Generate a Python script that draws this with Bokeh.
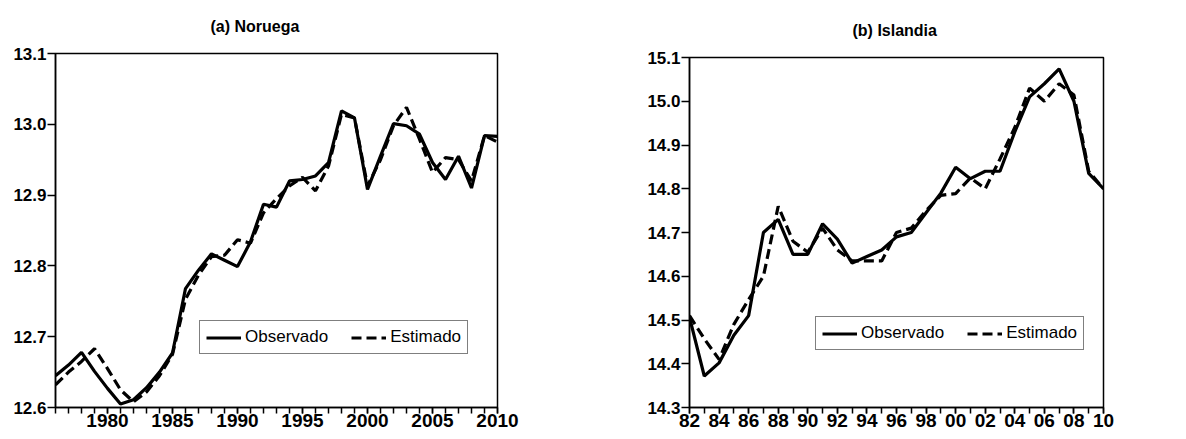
from bokeh.plotting import figure
from bokeh.layouts import row
from bokeh.models import FixedTicker, Legend, LegendItem, Range1d
from bokeh.embed import file_html
from bokeh.resources import INLINE

# ---- data ----
years_no = list(range(1976, 2011))
obs_no = [12.645, 12.660, 12.678, 12.651, 12.627, 12.605, 12.611, 12.628, 12.650, 12.677,
          12.768, 12.794, 12.817, 12.808, 12.799, 12.834, 12.887, 12.883, 12.920, 12.922,
          12.927, 12.946, 13.019, 13.009, 12.908, 12.955, 13.001, 12.998, 12.986, 12.946,
          12.922, 12.955, 12.910, 12.984, 12.983]
est_no = [12.632, 12.650, 12.665, 12.683, 12.655, 12.625, 12.608, 12.622, 12.645, 12.675,
          12.753, 12.787, 12.813, 12.815, 12.837, 12.832, 12.875, 12.895, 12.913, 12.925,
          12.906, 12.941, 13.014, 13.009, 12.913, 12.950, 12.998, 13.024, 12.979, 12.932,
          12.953, 12.950, 12.920, 12.984, 12.975]

years_is = list(range(1982, 2011))
obs_is = [14.506, 14.372, 14.402, 14.465, 14.510, 14.700, 14.730, 14.650, 14.650, 14.720,
          14.685, 14.630, 14.645, 14.660, 14.690, 14.700, 14.745, 14.790, 14.849, 14.823,
          14.840, 14.840, 14.930, 15.010, 15.040, 15.074, 15.000, 14.835, 14.800]
est_is = [14.510, 14.457, 14.410, 14.490, 14.547, 14.600, 14.760, 14.680, 14.655, 14.710,
          14.660, 14.635, 14.635, 14.635, 14.700, 14.710, 14.750, 14.785, 14.789, 14.825,
          14.800, 14.868, 14.940, 15.030, 15.000, 15.040, 15.014, 14.840, 14.800]

title_no = "(a) Noruega"
title_is = "(b) Islandia"
yticks_no = [12.6, 12.7, 12.8, 12.9, 13.0, 13.1]
yticks_is = [14.3, 14.4, 14.5, 14.6, 14.7, 14.8, 14.9, 15.0, 15.1]
xmajor_no = [1980, 1985, 1990, 1995, 2000, 2005, 2010]
xmajor_is = list(range(1982, 2011, 2))
xlabels_is = {y: "%02d" % (y % 100) for y in xmajor_is}

REG = "'Liberation Sans', Arial, sans-serif"


def make(title, years, obs, est, xr, yr, yticks, xmajor, xlabels, width, height,
         bl, br, bt, bb, title_offset, title_standoff, leg_loc, xfs):
    p = figure(width=width, height=height, output_backend="svg", toolbar_location=None,
               x_range=Range1d(*xr), y_range=Range1d(*yr),
               min_border_left=bl, min_border_right=br, min_border_top=bt, min_border_bottom=bb)
    p.title.text = title
    p.title.align = "left"
    p.title.vertical_align = "top"
    p.title.text_font = REG
    p.title.text_font_size = "16px"
    p.title.text_font_style = "bold"
    p.title.text_color = "black"
    p.title.offset = title_offset
    p.title.standoff = title_standoff
    p.grid.visible = False
    p.outline_line_color = "black"
    p.outline_line_width = 1.5
    p.background_fill_color = "white"
    p.border_fill_color = "white"

    r1 = p.line(years, obs, line_color="black", line_width=3.2)
    r2 = p.line(years, est, line_color="black", line_width=3.2, line_dash="10 5")

    ya = p.yaxis[0]
    ya.ticker = FixedTicker(ticks=yticks)
    ya.major_label_overrides = {t: "%.1f" % t for t in yticks}
    ya.major_label_text_font = REG
    ya.major_label_text_font_style = "bold"
    ya.major_label_text_font_size = "17px"
    ya.major_label_text_color = "black"
    ya.major_tick_out = 8
    ya.major_tick_in = 0
    ya.minor_tick_out = 0
    ya.minor_tick_in = 0
    ya.major_tick_line_width = 1.5
    ya.axis_line_width = 1.5
    ya.major_label_standoff = 1

    xa = p.xaxis[0]
    xa.ticker = FixedTicker(ticks=xmajor, minor_ticks=list(range(int(xr[0]), int(xr[1]) + 1)))
    if xlabels:
        xa.major_label_overrides = xlabels
    xa.major_label_text_font = REG
    xa.major_label_text_font_style = "bold"
    xa.major_label_text_font_size = xfs
    xa.major_label_text_color = "black"
    xa.major_tick_out = 6
    xa.major_tick_in = 0
    xa.minor_tick_out = 6
    xa.minor_tick_in = 0
    xa.major_tick_line_width = 1.5
    xa.minor_tick_line_width = 1.5
    xa.axis_line_width = 1.5
    xa.major_label_standoff = 0

    leg = Legend(items=[LegendItem(label="Observado", renderers=[r1]),
                        LegendItem(label="Estimado", renderers=[r2])],
                 orientation="horizontal", location=leg_loc)
    leg.label_text_font = REG
    leg.label_text_font_size = "17px"
    leg.label_text_color = "black"
    leg.glyph_width = 35
    leg.glyph_height = 17
    leg.label_standoff = 4
    leg.spacing = 23
    leg.padding = 6
    leg.margin = 0
    leg.border_line_color = "black"
    leg.border_line_width = 1.5
    leg.background_fill_alpha = 1
    p.add_layout(leg)
    return p


p1 = make(title_no, years_no, obs_no, est_no, (1976, 2010), (12.6, 13.1), yticks_no,
          xmajor_no, None, 568, 439, 55, 71, 53, 32, 155, 34, (144, 53), "19px")
p2 = make(title_is, years_is, obs_is, est_is, (1982, 2010), (14.3, 15.1), yticks_is,
          xmajor_is, xlabels_is, 610, 435, 121, 75, 53, 28, 163, 34, (126, 57), "19px")
p2.margin = (4, 0, 0, 0)

layout = row(p1, p2)
open("out.html", "w").write(file_html(layout, INLINE))
